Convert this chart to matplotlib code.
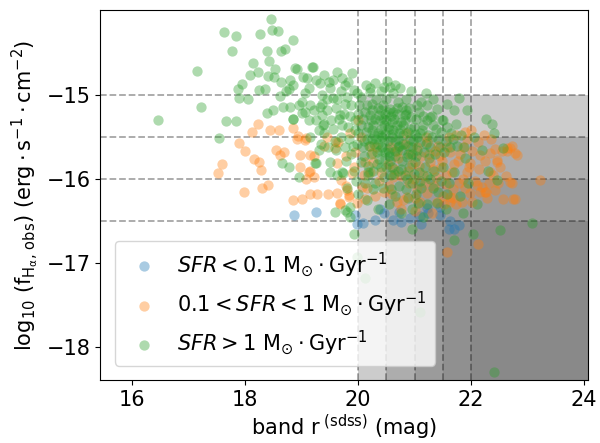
import numpy as np
import matplotlib
matplotlib.use("Agg")
import matplotlib.pyplot as plt

# magnitude / flux cuts used for the completeness boxes
mag_cuts = [20.0, 20.5, 21.0, 21.5, 22.0]
flux_cuts = [-15.0, -15.5, -16.0, -16.5]
box_flux = [-15.0, -15.5, -16.0, -16.5, -16.5]

# SFR < 0.1 Msun/Gyr  (r mag, log10 flux)
low_pts = np.array([
    (18.86, -16.43), (19.25, -16.39), (19.95, -16.43), (19.98, -16.53), (20.09, -16.52),
    (20.38, -16.35), (20.45, -16.40), (20.61, -16.48), (20.73, -16.39), (20.76, -16.51),
    (20.91, -16.46), (21.09, -16.44), (21.11, -16.53), (21.22, -16.34), (21.24, -16.40),
    (21.45, -16.33), (21.45, -16.43), (21.60, -16.59), (21.63, -16.50), (21.79, -16.54),
    (21.69, -16.59), (20.30, -16.48),
])

# 0.1 < SFR < 1 Msun/Gyr
mid_pts = np.array([
    (18.22, -15.34), (18.11, -15.44), (18.44, -15.42), (18.59, -15.42), (17.89, -15.57),
    (17.99, -15.67), (18.16, -15.76), (18.24, -15.79), (18.28, -15.89), (17.58, -15.82),
    (17.52, -15.93), (18.54, -15.65), (18.61, -15.71), (18.68, -15.68), (18.84, -15.39),
    (18.93, -15.49), (19.07, -15.51), (18.97, -15.71), (19.14, -15.71), (19.22, -15.72),
    (19.14, -15.90), (19.08, -16.00), (19.21, -15.97), (17.98, -16.15), (18.30, -16.10),
    (18.41, -16.07), (18.85, -16.25), (19.00, -16.23), (19.14, -16.18), (19.27, -16.18),
    (19.47, -16.18), (19.63, -16.16), (19.45, -15.50), (19.60, -15.56), (19.62, -15.81),
    (19.70, -16.01), (19.68, -16.29), (19.79, -16.08), (19.83, -16.19), (19.67, -16.28),
    (18.91, -15.52), (19.06, -15.54), (18.97, -15.85), (19.12, -15.91), (19.39, -15.61),
    (19.59, -15.63), (19.65, -15.56), (19.80, -16.13), (19.83, -16.21), (19.89, -15.93),
    (19.92, -15.85), (20.06, -16.09), (20.16, -16.10), (20.12, -16.23), (20.45, -16.15),
    (20.55, -16.08), (20.68, -16.27), (20.86, -16.21), (21.10, -16.27), (21.21, -16.17),
    (21.39, -16.27), (21.50, -16.20), (21.63, -16.27), (21.83, -16.27), (22.01, -16.27),
    (22.16, -16.15), (22.42, -16.13), (22.45, -15.79), (22.57, -16.23), (22.78, -16.23),
    (22.81, -15.71), (22.63, -15.67), (22.16, -15.71), (21.98, -15.81), (20.21, -15.60),
    (20.24, -15.69), (20.32, -15.62), (20.12, -15.79), (21.89, -15.44), (22.00, -15.42),
    (22.22, -15.48), (22.34, -15.69), (22.45, -15.77), (22.69, -15.63), (22.78, -15.69),
    (22.55, -15.66), (23.22, -16.01), (22.75, -16.23), (22.69, -16.03), (22.34, -15.91),
    (22.19, -16.09), (22.25, -16.15), (21.98, -16.17), (21.74, -16.29), (21.63, -16.21),
    (22.72, -15.60), (22.63, -15.63), (22.27, -16.15), (22.10, -16.07), (22.48, -16.05),
    (22.39, -15.95), (22.72, -16.05), (21.57, -16.87), (22.13, -16.77), (20.58, -15.62),
    (20.70, -15.75), (20.82, -15.58), (20.95, -15.82), (21.05, -15.62), (21.15, -15.95),
    (21.25, -15.70), (21.32, -15.88), (21.42, -15.60), (21.48, -15.78), (21.55, -15.95),
    (21.62, -15.68), (21.70, -15.82), (21.78, -16.05), (21.85, -15.62), (21.92, -15.92),
    (20.90, -16.05), (21.05, -16.12), (21.35, -16.08), (21.68, -16.12), (20.40, -15.92),
    (20.62, -15.98), (20.30, -16.20), (20.85, -15.45), (21.20, -15.50), (21.60, -15.50),
    (20.75, -16.35), (21.00, -16.38), (21.30, -16.40), (20.05, -15.50), (20.20, -15.92),
    (20.52, -15.82), (20.64, -15.88), (20.76, -15.96), (20.88, -15.90), (20.98, -16.00),
    (21.08, -15.84), (21.18, -16.04), (21.28, -15.80), (21.38, -15.98), (21.46, -15.86),
    (21.56, -16.06), (21.66, -15.92), (21.76, -15.78), (21.86, -16.00), (21.96, -15.86),
    (22.06, -16.02), (22.14, -15.88), (22.24, -15.78), (22.32, -16.04), (22.42, -15.64),
    (22.52, -15.86), (22.62, -15.96), (21.12, -15.72), (21.36, -15.66), (21.58, -15.62),
    (21.80, -15.70), (22.02, -15.66), (22.12, -15.56), (21.92, -15.52), (21.74, -15.48),
    (21.52, -16.30), (21.90, -16.10), (22.28, -16.22), (20.60, -16.18), (20.80, -16.25),
    (21.00, -16.22), (20.92, -15.70), (20.68, -15.66), (20.36, -16.02), (20.26, -15.80),
    (20.10, -15.95), (19.98, -16.28), (19.95, -15.68), (19.78, -15.72), (19.85, -15.45),
    (20.00, -15.30), (21.22, -15.56), (21.44, -15.72), (21.68, -16.22), (22.36, -15.52),
])

# SFR > 1 Msun/Gyr
high_pts = np.array([
    (18.45, -14.10), (17.63, -14.25), (17.84, -14.30), (18.26, -14.27), (18.47, -14.23),
    (18.58, -14.24), (18.84, -14.35), (17.77, -14.48), (18.39, -14.47), (18.63, -14.47),
    (18.70, -14.45), (18.42, -14.59), (18.14, -14.62), (17.14, -14.71), (18.23, -14.72),
    (18.52, -14.69), (18.41, -14.77), (18.51, -14.79), (18.64, -14.85), (18.91, -14.69),
    (19.19, -14.67), (18.09, -14.76), (17.95, -14.87), (17.87, -14.93), (17.89, -15.03),
    (18.05, -15.05), (18.24, -14.94), (18.35, -14.93), (18.61, -15.01), (18.78, -14.93),
    (18.67, -15.14), (18.80, -15.14), (18.49, -15.18), (18.38, -15.21), (17.22, -15.14),
    (16.45, -15.30), (17.65, -15.31), (17.83, -15.31), (17.54, -15.51), (18.84, -15.28),
    (19.00, -15.21), (19.13, -15.30), (19.33, -15.14), (19.38, -15.35), (18.65, -15.81),
    (18.77, -15.85), (19.24, -15.81), (18.96, -15.97), (19.50, -15.91), (19.34, -15.58),
    (19.73, -15.93), (19.59, -16.39), (19.80, -16.39), (19.85, -16.45), (19.86, -16.33),
    (19.26, -15.81), (19.71, -15.91), (20.18, -15.91), (19.77, -16.37),
    (18.88, -14.68), (19.20, -14.66), (19.39, -14.76), (19.89, -14.74), (19.71, -14.80),
    (19.55, -14.82), (19.03, -14.78), (18.85, -14.88), (19.33, -14.86), (19.77, -14.88),
    (19.92, -14.94), (19.00, -15.08), (19.15, -15.12), (19.36, -15.10), (19.56, -15.04),
    (19.77, -15.10), (20.21, -14.96), (20.51, -14.83), (20.57, -14.90), (20.74, -14.92),
    (18.84, -15.28), (19.06, -15.20), (19.36, -15.24), (19.39, -15.34), (19.68, -15.24),
    (20.85, -15.18), (21.04, -15.12), (21.21, -15.12), (21.39, -15.16), (21.57, -15.10),
    (21.69, -15.18), (21.27, -15.26), (21.51, -15.30), (21.78, -15.04), (21.92, -15.18),
    (22.27, -15.28), (22.37, -15.34), (22.57, -15.63), (22.45, -16.01),
    (19.93, -16.65), (19.98, -16.92), (20.12, -17.17), (20.95, -16.59), (21.69, -16.72),
    (22.04, -16.65), (22.51, -16.61), (23.07, -16.52), (22.41, -18.29), (21.10, -17.58),
    (19.45, -15.18), (19.62, -15.05), (19.75, -15.22), (19.88, -15.12), (19.95, -15.30),
    (20.05, -15.02), (20.12, -15.20), (20.18, -15.38), (20.25, -15.10), (20.30, -15.28),
    (20.35, -15.45), (20.40, -15.18), (20.45, -15.35), (20.50, -15.05), (20.52, -15.55),
    (20.58, -15.25), (20.62, -15.42), (20.68, -15.15), (20.72, -15.60), (20.75, -15.32),
    (20.80, -15.48), (20.85, -15.22), (20.88, -15.70), (20.92, -15.40), (20.97, -15.55),
    (21.02, -15.28), (21.05, -15.65), (21.10, -15.45), (21.15, -15.35), (21.20, -15.58),
    (21.25, -15.75), (21.30, -15.50), (21.38, -15.40), (21.45, -15.62), (21.55, -15.55),
    (21.65, -15.45), (21.75, -15.60), (19.55, -15.40), (19.70, -15.50), (19.82, -15.38),
    (19.90, -15.60), (20.00, -15.45), (20.08, -15.62), (20.15, -15.52), (20.22, -15.70),
    (20.28, -15.58), (20.33, -15.82), (20.38, -15.65), (20.43, -15.50), (20.48, -15.75),
    (20.55, -15.68), (20.60, -15.85), (20.65, -15.72), (20.70, -15.90), (20.78, -15.78),
    (20.82, -15.95), (20.90, -15.85), (20.95, -16.05), (21.00, -15.80), (21.08, -15.92),
    (21.12, -16.10), (21.18, -15.85), (21.28, -16.00), (21.35, -15.90), (21.42, -16.15),
    (21.50, -15.85), (21.60, -16.05), (21.70, -15.92), (21.80, -16.20), (19.60, -15.65),
    (19.78, -15.78), (19.92, -15.90), (20.05, -15.80), (20.18, -15.95), (20.30, -16.05),
    (20.45, -15.98), (20.58, -16.12), (20.72, -16.08), (20.88, -16.22), (21.02, -16.18),
    (21.22, -16.30), (21.40, -16.28), (20.20, -14.92), (20.40, -14.95), (20.62, -14.98),
    (20.85, -15.05), (21.12, -15.08), (20.10, -15.55), (20.25, -15.42), (20.42, -15.62),
    (20.55, -15.40), (20.66, -15.55), (20.78, -15.65), (20.95, -15.70), (20.48, -15.22),
    (20.35, -15.15), (20.68, -15.35), (20.90, -15.15), (21.05, -15.50), (21.30, -15.25),
    (21.48, -15.30), (20.58, -15.95), (20.40, -15.85), (20.22, -15.30), (20.05, -15.35),
    (19.85, -15.25), (19.70, -14.95), (19.50, -14.92), (19.35, -15.00), (19.40, -15.45),
    (19.25, -15.30), (19.15, -15.50), (19.30, -15.65), (19.50, -15.80), (19.62, -15.95),
    (19.80, -16.10), (20.00, -16.18), (20.15, -16.25), (20.35, -16.35), (20.55, -16.30),
    (20.75, -16.40), (20.95, -16.35), (21.15, -16.45), (21.55, -16.35), (21.85, -16.40),
    (22.10, -16.30), (21.90, -15.75), (22.05, -15.50), (22.20, -15.65), (21.95, -16.05),
    (22.30, -15.90), (22.40, -15.45), (20.62, -15.20), (20.45, -15.55), (20.28, -15.48),
    (20.52, -15.38), (20.38, -15.30), (20.72, -15.45), (20.60, -15.32), (20.80, -15.35),
    (20.15, -15.12), (20.32, -15.05), (20.70, -15.08), (20.00, -15.22), (20.47, -15.68),
    (20.02, -15.12), (20.08, -15.28), (20.13, -15.44), (20.19, -15.60), (20.24, -15.18),
    (20.27, -15.36), (20.31, -15.52), (20.34, -15.68), (20.37, -15.24), (20.41, -15.40),
    (20.44, -15.12), (20.47, -15.46), (20.50, -15.30), (20.53, -15.64), (20.56, -15.16),
    (20.59, -15.50), (20.63, -15.28), (20.66, -15.66), (20.69, -15.22), (20.71, -15.52),
    (20.74, -15.40), (20.77, -15.14), (20.79, -15.58), (20.83, -15.30), (20.86, -15.74),
    (20.89, -15.44), (20.93, -15.26), (20.96, -15.62), (20.99, -15.38), (21.03, -15.72),
    (21.07, -15.20), (21.09, -15.56), (21.13, -15.42), (21.17, -15.68), (21.21, -15.30),
    (21.24, -15.48), (21.27, -15.62), (21.33, -15.36), (21.36, -15.70), (21.41, -15.52),
    (21.47, -15.44), (21.52, -15.68), (21.58, -15.38), (21.62, -15.62), (21.68, -15.52),
    (21.73, -15.34), (21.82, -15.48), (21.88, -15.62), (19.98, -15.58), (19.94, -15.42),
    (19.88, -15.70), (19.84, -15.52), (19.76, -15.62), (19.72, -15.36), (19.66, -15.28),
    (19.58, -15.55), (19.52, -15.30), (19.46, -15.62), (20.10, -15.72), (20.17, -15.84),
    (20.26, -15.90), (20.36, -15.76), (20.49, -15.86), (20.57, -15.78), (20.64, -15.94),
    (20.76, -15.88), (20.86, -16.00), (20.98, -15.94), (21.10, -16.02), (21.22, -15.96),
    (21.33, -16.10), (21.46, -16.02), (21.58, -16.18), (20.44, -16.10), (20.66, -16.20),
    (20.26, -16.12), (20.12, -16.04), (19.96, -16.02), (20.84, -16.12), (21.06, -16.28),
    (19.60, -15.15), (19.80, -15.02), (19.97, -14.97), (20.14, -14.88), (20.30, -14.86),
    (20.46, -14.90), (20.66, -14.88), (20.93, -14.95), (21.20, -14.98), (21.32, -15.05),
    (19.12, -14.92), (19.26, -14.82), (19.48, -14.85), (19.62, -14.72), (19.82, -14.84),
    (19.05, -14.98), (18.95, -15.12), (19.22, -15.18), (19.30, -15.42), (19.45, -15.05),
    (18.80, -14.82), (18.72, -14.95), (19.10, -14.80), (20.55, -15.72), (20.35, -15.58),
    (20.70, -15.62), (20.92, -15.52), (21.00, -15.46), (20.46, -15.28), (20.82, -15.24),
    (20.60, -15.46), (20.40, -15.48), (20.25, -15.52), (20.88, -15.60), (21.15, -15.25),
    (20.20, -15.24), (20.53, -15.20),
])

fig = plt.figure(figsize=(6, 4.43), dpi=100)
ax = fig.add_axes([0.167, 0.142, 0.813, 0.835])

xmin, xmax = 15.43, 24.07
ymin, ymax = -18.39, -13.99

# shaded boxes: fainter than mag cut and brighter-flux limit
for m, f in zip(mag_cuts, box_flux):
    ax.fill_between([m, xmax], ymin, f, color="gray", alpha=0.4, lw=0, zorder=0)

for m in mag_cuts:
    ax.axvline(m, color="k", ls="--", lw=1.3, alpha=0.35, zorder=1)
for f in flux_cuts:
    ax.axhline(f, color="k", ls="--", lw=1.3, alpha=0.35, zorder=1)

kw = dict(s=55, alpha=0.38, linewidths=0, zorder=2)
ax.scatter(low_pts[:, 0], low_pts[:, 1], color="tab:blue",
           label=r"$SFR<0.1\ \mathrm{M_{\odot}}\cdot\mathrm{Gyr^{-1}}$", **kw)
ax.scatter(mid_pts[:, 0], mid_pts[:, 1], color="tab:orange",
           label=r"$0.1<SFR<1\ \mathrm{M_{\odot}}\cdot\mathrm{Gyr^{-1}}$", **kw)
ax.scatter(high_pts[:, 0], high_pts[:, 1], color="tab:green",
           label=r"$SFR>1\ \mathrm{M_{\odot}}\cdot\mathrm{Gyr^{-1}}$", **kw)

ax.set_xlim(xmin, xmax)
ax.set_ylim(ymin, ymax)
ax.set_xticks([16, 18, 20, 22, 24])
ax.set_yticks([-15, -16, -17, -18])
ax.tick_params(labelsize=15)

ax.set_xlabel(r"band r$^{\ \mathrm{(sdss)}}$ (mag)", fontsize=15, labelpad=2)
ax.set_ylabel(r"$\mathrm{log_{10}}\ (\mathrm{f_{H_{\alpha},\,obs}})\ (\mathrm{erg\cdot s^{-1}\cdot cm^{-2}})$",
              fontsize=15, labelpad=4)

ax.legend(loc="lower left", fontsize=15, handletextpad=0.6, borderaxespad=0.7)

fig.savefig("out.png", dpi=100)
